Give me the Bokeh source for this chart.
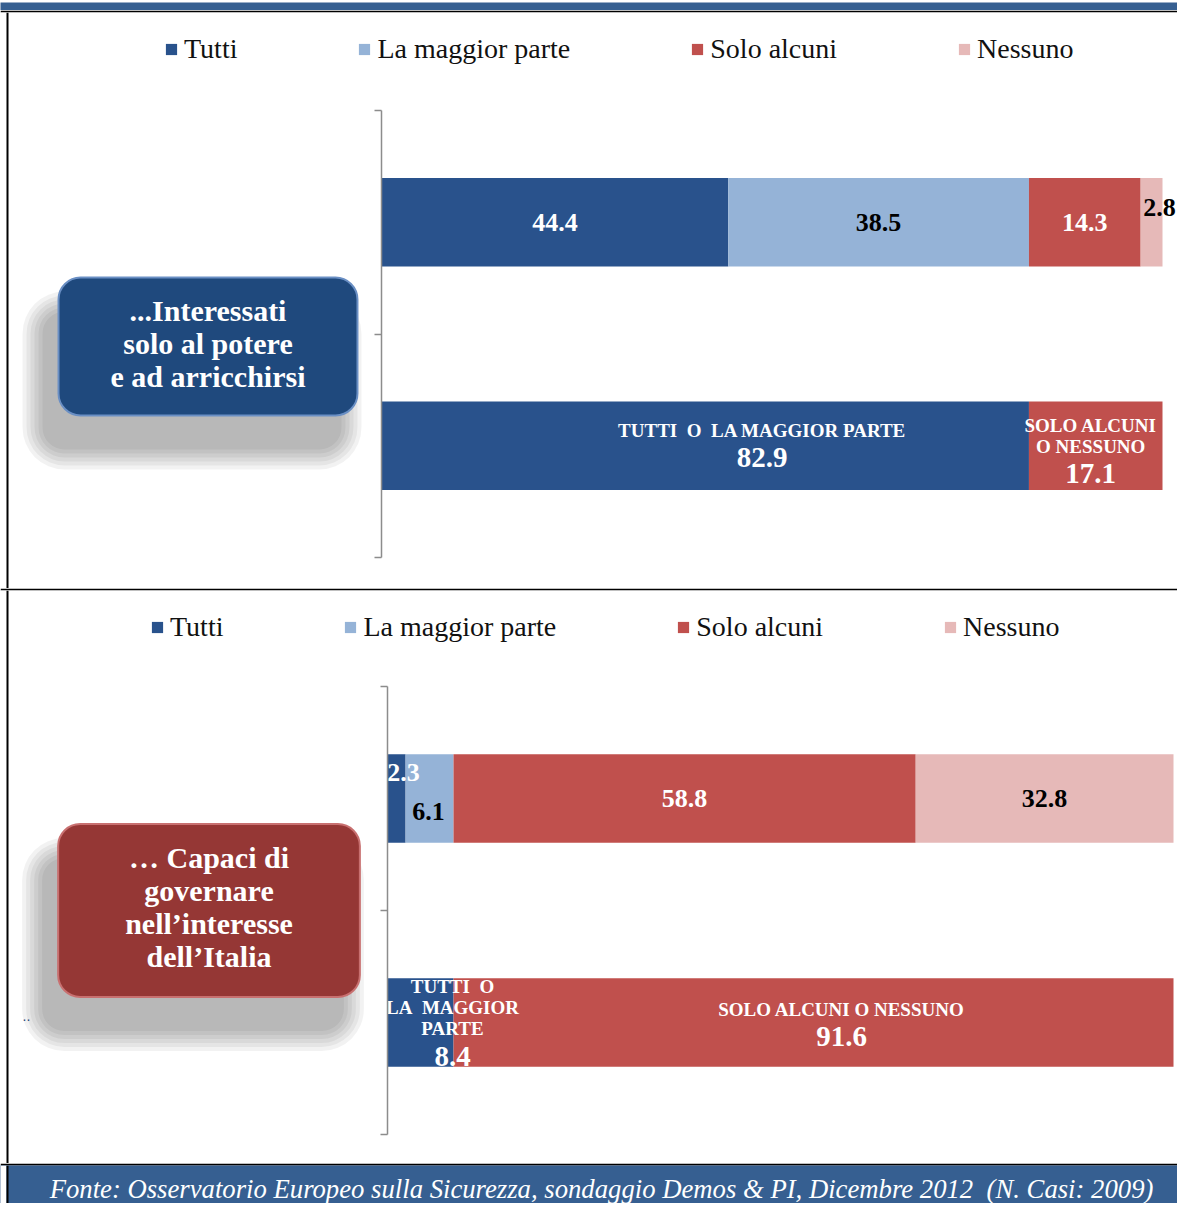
import numpy as np
from bokeh.plotting import figure
from bokeh.models import (ColumnDataSource, Range1d, LinearAxis, FixedTicker,
                          Legend, LegendItem, Label, Span, BoxAnnotation)
from bokeh.layouts import column
from bokeh.core.properties import value
from bokeh.embed import file_html
from bokeh.resources import INLINE

# ---------------- data ----------------
series = ["Tutti", "La maggior parte", "Solo alcuni", "Nessuno"]
series_colors = ["#29528C", "#95B3D7", "#C0504D", "#E6B9B8"]
combined_colors = ["#29528C", "#C0504D"]

panel1_title = "...Interessati\nsolo al potere\ne ad arricchirsi"
panel1_detail = [44.4, 38.5, 14.3, 2.8]
panel1_combined = [82.9, 17.1]
panel1_captions = ["TUTTI\u00a0 O\u00a0 LA MAGGIOR PARTE", "SOLO ALCUNI\nO NESSUNO"]

panel2_title = "\u2026 Capaci di\ngovernare\nnell\u2019interesse\ndell\u2019Italia"
panel2_detail = [2.3, 6.1, 58.8, 32.8]
panel2_combined = [8.4, 91.6]
panel2_captions = ["TUTTI\u00a0 O\nLA\u00a0 MAGGIOR\nPARTE", "SOLO ALCUNI O NESSUNO"]

source_note = ("Fonte: Osservatorio Europeo sulla Sicurezza, sondaggio Demos & PI, "
               "Dicembre 2012\u00a0 (N. Casi: 2009)")

# ---------------- styles / layout ----------------
W = 1177
SERIF = "Liberation Serif"
BAR_H = 0.395
HEADER_BLUE = "#365F91"

p1_detail_dx = [0, 0, 0, 8]
p1_detail_dy = [0, 0, 0, -15]
p1_detail_col = ["white", "black", "white", "black"]
p2_detail_dx = [7, -1, 0, 0]
p2_detail_dy = [-26, 13, 0, 0]
p2_detail_col = ["white", "black", "white", "black"]

p1_comb_dx = [57, -5]
p1_comb_cap_dy = [-15, -10]
p1_comb_num_dy = [12, 28]
p2_comb_dx = [32, 28]
p2_comb_cap_dy = [-15, -13]
p2_comb_num_dy = [34, 14]

# soft drop shadow under the rounded title boxes: (dx, dy, alpha, grow)
SHADOW = [(-16, -34, 0.05, g) for g in (20, 16, 12, 8, 4, 0)]


def build_panel(height, x_range, y_range, border_x, detail, combined, captions, title,
                box_fill, box_edge, box_xy, box_pad, legend_loc,
                d_dx, d_dy, d_col, c_dx, c_cap_dy, c_num_dy):
    p = figure(width=W, height=height, x_range=Range1d(*x_range),
               y_range=Range1d(*y_range), x_axis_type=None, y_axis_type=None,
               output_backend="svg", toolbar_location=None,
               min_border_left=0, min_border_right=0, min_border_top=2,
               min_border_bottom=0, border_fill_color="black",
               background_fill_color="white", outline_line_color=None)

    p.add_layout(Span(location=border_x, dimension="height", line_color="black",
                      line_width=2))

    ax = LinearAxis(fixed_location=0, ticker=FixedTicker(ticks=[0, 1, 2]),
                    bounds=(0, 2), axis_line_color="#8C8C8C", axis_line_width=1.5,
                    major_tick_line_color="#8C8C8C", major_tick_line_width=1.5,
                    major_tick_in=0, major_tick_out=7, minor_tick_line_color=None,
                    major_label_text_color=None, major_label_text_font_size="0px")
    p.add_layout(ax, "left")

    n_rows = 2
    y_detail = n_rows - 0 - 0.5
    y_comb = n_rows - 1 - 0.5

    keys = [f"s{i}" for i in range(len(series))]
    src = ColumnDataSource(dict(y=[y_detail], **{k: [v] for k, v in zip(keys, detail)}))
    rs = p.hbar_stack(keys, y="y", height=BAR_H, color=series_colors,
                      line_color=None, source=src)

    ckeys = ["c0", "c1"]
    src2 = ColumnDataSource(dict(y=[y_comb], **{k: [v] for k, v in zip(ckeys, combined)}))
    p.hbar_stack(ckeys, y="y", height=BAR_H, color=combined_colors,
                 line_color=None, source=src2)

    det = np.array(detail)
    det_mid = np.concatenate([[0], np.cumsum(det)[:-1]]) + det / 2
    p.text(x=det_mid, y=[y_detail] * len(det), text=[f"{v:.1f}" for v in det],
           x_offset=d_dx, y_offset=d_dy, text_color=d_col,
           text_font=value(SERIF), text_font_style="bold", text_font_size="26px",
           text_align="center", text_baseline="middle")

    com = np.array(combined)
    com_mid = np.concatenate([[0], np.cumsum(com)[:-1]]) + com / 2
    p.text(x=com_mid, y=[y_comb] * len(com), text=captions,
           x_offset=c_dx, y_offset=c_cap_dy, text_color="white",
           text_font=value(SERIF), text_font_style="bold", text_font_size="19px",
           text_align="center", text_baseline="middle", text_line_height=1.0)
    p.text(x=com_mid, y=[y_comb] * len(com), text=[f"{v:.1f}" for v in com],
           x_offset=c_dx, y_offset=c_num_dy, text_color="white",
           text_font=value(SERIF), text_font_style="bold", text_font_size="29px",
           text_align="center", text_baseline="middle")

    items = [LegendItem(label=s, renderers=[r]) for s, r in zip(series, rs)]
    leg = Legend(items=items, orientation="horizontal", location=legend_loc,
                 padding=0, margin=0, spacing=120, label_standoff=6,
                 glyph_width=14, glyph_height=14, label_height=30,
                 label_text_font=SERIF, label_text_font_size="28px",
                 label_text_color="#111111", background_fill_alpha=0,
                 border_line_color=None)
    p.add_layout(leg)

    bx, by = box_xy
    pl, pr, pt, pb = box_pad
    for dx, dy, a, grow in SHADOW:
        p.add_layout(Label(x=bx, y=by, x_offset=dx, y_offset=dy, text=title,
                           text_color="#000000", text_alpha=0.01, text_font=SERIF,
                           text_font_style="bold", text_font_size="30px",
                           text_align="center", text_baseline="middle",
                           text_line_height=1.0,
                           background_fill_color="black", background_fill_alpha=a,
                           border_radius=22 + grow,
                           padding=dict(left=pl + grow, right=pr + grow,
                                        top=pt + grow, bottom=pb + grow)))
    p.add_layout(Label(x=bx, y=by, text=title, text_color="white",
                       text_font=SERIF, text_font_style="bold",
                       text_font_size="30px", text_align="center",
                       text_baseline="middle", text_line_height=1.0,
                       background_fill_color=box_fill, border_line_color=box_edge,
                       border_line_width=2, border_radius=22,
                       padding=dict(left=pl, right=pr, top=pt, bottom=pb)))
    return p


# pixel geometry of the reference -> data ranges
def ranges(frame_l, frame_r, frame_t, frame_b, x0px, x100px, y0px, y2px):
    sx = (x100px - x0px) / 100.0
    sy = (y0px - y2px) / 2.0
    xr = ((frame_l - x0px) / sx, (frame_r - x0px) / sx)
    yr = ((y0px - frame_b) / sy, (y0px - frame_t) / sy)
    to_data = lambda px, py: ((px - x0px) / sx, (y0px - py) / sy)
    return xr, yr, to_data


xr1, yr1, d1 = ranges(0, W, 12, 588, 381, 1162, 557, 110)
xr2, yr2, d2 = ranges(0, W, 590, 1163, 387, 1173, 1134, 686)

header = figure(width=W, height=10, x_axis_type=None, y_axis_type=None,
                output_backend="svg", toolbar_location=None,
                min_border_left=0, min_border_right=0, min_border_top=0,
                min_border_bottom=0, background_fill_color=HEADER_BLUE,
                border_fill_color=HEADER_BLUE, outline_line_color=None)

p1 = build_panel(578, xr1, yr1, d1(7, 0)[0], panel1_detail, panel1_combined,
                 panel1_captions, panel1_title, "#1F497D", "#6A8FC4",
                 d1(207.5, 346), (52, 52, 16, 23), (164, 523),
                 p1_detail_dx, p1_detail_dy, p1_detail_col,
                 p1_comb_dx, p1_comb_cap_dy, p1_comb_num_dy)

p2 = build_panel(575, xr2, yr2, d2(7, 0)[0], panel2_detail, panel2_combined,
                 panel2_captions, panel2_title, "#953735", "#C87070",
                 d2(208.5, 910), (67, 67, 17, 24), (150, 520),
                 p2_detail_dx, p2_detail_dy, p2_detail_col,
                 p2_comb_dx, p2_comb_cap_dy, p2_comb_num_dy)
dx_, dy_ = d2(26, 1015)
p2.add_layout(Label(x=dx_, y=dy_, text="..", text_color="#1F497D", text_font_size="14px",
                    text_align="center", text_baseline="middle"))

footer = figure(width=W, height=40, x_range=Range1d(0, W), y_range=Range1d(0, 38),
                x_axis_type=None, y_axis_type=None, output_backend="svg",
                toolbar_location=None, min_border_left=0, min_border_right=0,
                min_border_top=2, min_border_bottom=0, border_fill_color="black",
                background_fill_color=HEADER_BLUE, outline_line_color=None)
footer.add_layout(BoxAnnotation(left=0, right=6, fill_color="white", fill_alpha=1,
                                line_color=None))
footer.add_layout(Span(location=7, dimension="height", line_color="black", line_width=2))
footer.add_layout(Label(x=601, y=15, text=source_note, text_color="white",
                        text_font=SERIF, text_font_style="italic",
                        text_font_size="26.7px", text_align="center",
                        text_baseline="middle"))

layout = column(header, p1, p2, footer, spacing=0)
open("out.html", "w").write(file_html(layout, INLINE))
